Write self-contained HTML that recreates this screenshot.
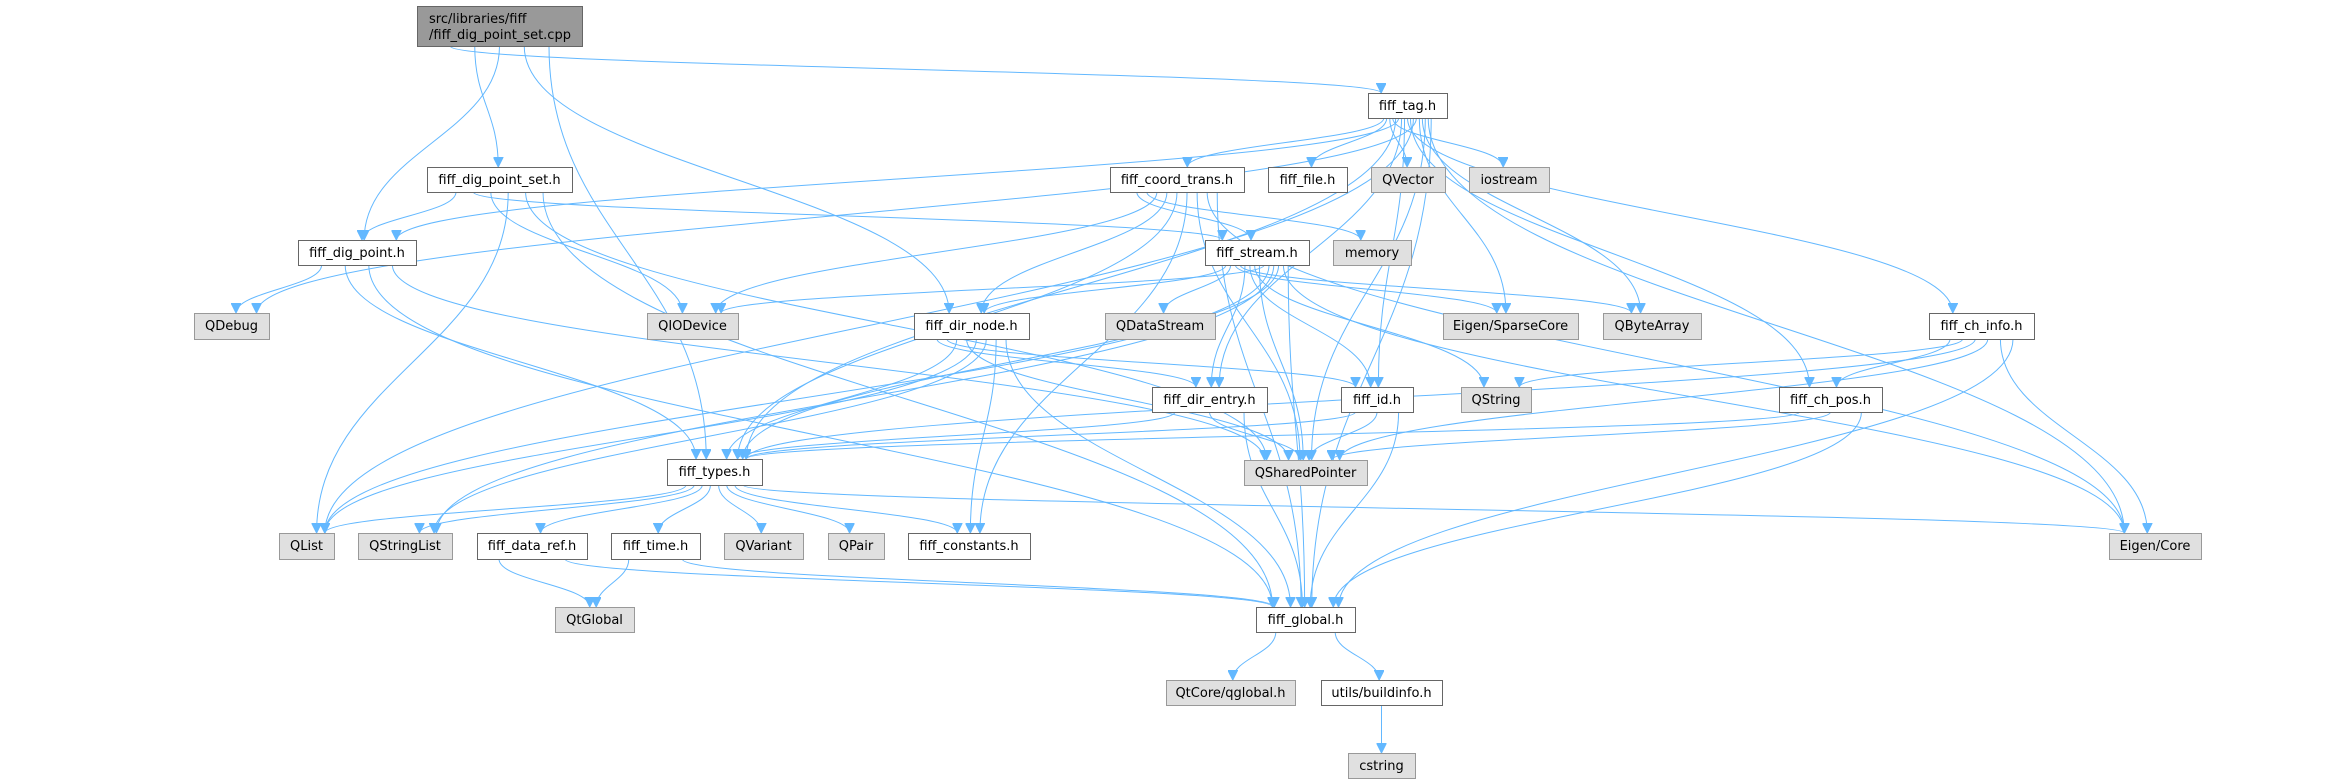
<!DOCTYPE html>
<html><head><meta charset="utf-8">
<style>
html,body{margin:0;padding:0;background:#fff;}
svg{display:block;}
text{font-family:"DejaVu Sans","Liberation Sans",sans-serif;font-size:13px;fill:#000;}
</style></head>
<body>
<svg id="g" width="2331" height="784" viewBox="0 0 2331 784" xmlns="http://www.w3.org/2000/svg">
<defs><marker id="ah" viewBox="0 0 10 10" refX="10" refY="5" markerWidth="10" markerHeight="10" markerUnits="userSpaceOnUse" orient="auto"><path d="M0,0 L10,5 L0,10 z" fill="#63b8ff" stroke="#63b8ff"/></marker></defs>
<g id="edges" fill="none" stroke="#63b8ff" stroke-width="1"></g>
<g id="nodes"></g>
</svg>
<script>
var N={
cpp:[417,6,582,46,"src/libraries/fiff\n/fiff_dig_point_set.cpp",2],
tag:[1368,93,1447,118,"fiff_tag.h",0],
dps:[427,167,572,192,"fiff_dig_point_set.h",0],
dp:[298,240,416,265,"fiff_dig_point.h",0],
qdebug:[194,313,269,339,"QDebug",1],
qiodev:[647,313,738,339,"QIODevice",1],
coord:[1110,167,1244,192,"fiff_coord_trans.h",0],
file:[1268,167,1347,192,"fiff_file.h",0],
qvector:[1371,167,1445,192,"QVector",1],
iostream:[1469,167,1549,192,"iostream",1],
stream:[1205,240,1309,265,"fiff_stream.h",0],
memory:[1333,240,1411,265,"memory",1],
dirnode:[914,313,1029,339,"fiff_dir_node.h",0],
qds:[1105,313,1215,339,"QDataStream",1],
sparse:[1443,313,1578,339,"Eigen/SparseCore",1],
qba:[1603,313,1701,339,"QByteArray",1],
chinfo:[1929,313,2034,339,"fiff_ch_info.h",0],
direntry:[1152,387,1267,412,"fiff_dir_entry.h",0],
id:[1341,387,1413,412,"fiff_id.h",0],
qstring:[1461,387,1531,412,"QString",1],
chpos:[1779,387,1882,412,"fiff_ch_pos.h",0],
types:[667,459,762,485,"fiff_types.h",0],
qsp:[1244,460,1367,485,"QSharedPointer",1],
qlist:[279,533,334,559,"QList",1],
qsl:[358,533,452,559,"QStringList",1],
dataref:[477,533,587,559,"fiff_data_ref.h",0],
time:[611,533,700,559,"fiff_time.h",0],
qvariant:[724,533,803,559,"QVariant",1],
qpair:[828,533,884,559,"QPair",1],
consts:[908,533,1030,559,"fiff_constants.h",0],
ecore:[2109,533,2201,559,"Eigen/Core",1],
qtglobal:[555,607,634,632,"QtGlobal",1],
global:[1256,607,1355,632,"fiff_global.h",0],
qglobal:[1166,680,1295,705,"QtCore/qglobal.h",1],
build:[1321,680,1442,705,"utils/buildinfo.h",0],
cstring:[1348,753,1415,778,"cstring",1]
};
var E={
cpp:["tag","dps","dp","dirnode","types"],
tag:["coord","file","qvector","iostream","types","dp","direntry","id","chinfo","chpos","qlist","qdebug","sparse","qba","qsp","ecore","global"],
dps:["dp","stream","qiodev","qlist","qsp","global"],
dp:["qdebug","types","global","qsp"],
coord:["stream","memory","qiodev","dirnode","types","consts","qsp","ecore","global"],
stream:["dirnode","qds","sparse","qba","direntry","id","qstring","qsp","qiodev","qlist","qsl","types","ecore","global"],
dirnode:["direntry","id","types","qsp","qlist","qsl","consts","global"],
direntry:["types","qsp","global"],
id:["types","qsp","global"],
chinfo:["chpos","qstring","types","qsp","ecore","global"],
chpos:["types","qsp","global"],
types:["qlist","qsl","dataref","time","qvariant","qpair","consts","ecore"],
dataref:["qtglobal","global"],
time:["qtglobal","global"],
global:["qglobal","build"],
build:["cstring"]
};
var ns="http://www.w3.org/2000/svg";
var eg=document.getElementById("edges"),ng=document.getElementById("nodes");
for(var s in E){E[s].forEach(function(t,i){
 var a=N[s],b=N[t];
 var sx=(a[0]+a[2])/2, sy=a[3];
 var tx=(b[0]+b[2])/2, ty=b[1];
 var d;
 if(b[1]-a[3]<8){
   sx=(a[0]+a[2])/2; sy=(a[1]+a[3])/2;
   ty=(b[1]+b[3])/2; tx = b[0]>a[2]? b[0]: b[2];
   d="M"+(tx>sx?a[2]:a[0])+","+sy+" C"+(sx+tx)/2+","+sy+" "+(sx+tx)/2+","+ty+" "+tx+","+ty;
 } else {
   var w=a[2]-a[0], n=E[s].length;
   sx=a[0]+w*(0.2+0.6*(n>1?i/(n-1):0.5));
   var bw=b[2]-b[0];
   tx=tx+Math.max(-bw/3,Math.min(bw/3,(sx-tx)*0.05));
   var dy=ty-sy;
   d="M"+sx+","+sy+" C"+sx+","+(sy+dy*0.45)+" "+tx+","+(ty-dy*0.45)+" "+tx+","+ty;
 }
 var p=document.createElementNS(ns,"path");p.setAttribute("d",d);p.setAttribute("marker-end","url(#ah)");eg.appendChild(p);
});}
for(var k in N){var n=N[k];
 var r=document.createElementNS(ns,"rect");
 r.setAttribute("x",n[0]+0.5);r.setAttribute("y",n[1]+0.5);r.setAttribute("width",n[2]-n[0]);r.setAttribute("height",n[3]-n[1]);
 r.setAttribute("fill",n[5]==2?"#999999":n[5]==1?"#e0e0e0":"#ffffff");
 r.setAttribute("stroke",n[5]==0?"#666666":n[5]==2?"#666666":"#999999");
 ng.appendChild(r);
 var lines=n[4].split("\n");
 lines.forEach(function(L,j){
  var t=document.createElementNS(ns,"text");
  if(lines.length>1){t.setAttribute("x",n[0]+12);t.setAttribute("y",n[1]+17+j*16);}
  else{t.setAttribute("x",(n[0]+n[2])/2);t.setAttribute("y",n[1]+17);t.setAttribute("text-anchor","middle");}
  t.textContent=L;ng.appendChild(t);
 });
}
</script>
</body></html>
